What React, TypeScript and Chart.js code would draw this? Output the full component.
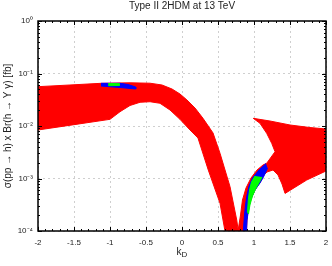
import React, { useEffect, useRef } from 'react';
import { Chart, registerables } from 'chart.js';

Chart.register(...registerables);

const FONT = '"Liberation Sans", Arial, Helvetica, sans-serif';

const titleText = 'Type II 2HDM at 13 TeV';
const yAxisTitle = 'σ(pp → h) x Br(h → Y γ) [fb]';
const xAxisTitleMain = 'k';
const xAxisTitleSub = 'D';

const xMajorTicks = [-2, -1.5, -1, -0.5, 0, 0.5, 1, 1.5, 2];
const xTickLabels = ['-2', '-1.5', '-1', '-0.5', '0', '0.5', '1', '1.5', '2'];
const yMajorTicks = [1e-4, 1e-3, 1e-2, 1e-1, 1];
const yTickLabels = ['10⁻⁴', '10⁻³', '10⁻²', '10⁻¹', '10⁰'];

// Red region, left arc: upper edge (left to right) then lower edge (right to left)
const redLeftK = [
  -2, -1.556, -1.125, -0.722, -0.444, -0.278, -0.139, -0.028, 0.069, 0.181, 0.292, 0.431, 0.528, 0.667, 0.76, 0.782,
  0.597, 0.528, 0.365, 0.222, 0.111, -0.028, -0.167, -0.306, -0.444, -0.583, -0.722, -0.861, -1.0, -1.5, -2,
];
const redLeftSigma = [
  0.0561, 0.0604, 0.065, 0.0665, 0.0653, 0.0604, 0.0507, 0.0407, 0.0313, 0.022, 0.014, 0.00736, 0.00302, 0.000698, 0.000162, 0.0001,
  0.0001, 0.000337, 0.00145, 0.0059, 0.0084, 0.0134, 0.0202, 0.0271, 0.029, 0.0283, 0.0246, 0.0187, 0.0134, 0.0106, 0.0084,
];

// Red region, right "arrow" shape (outline)
const redRightK = [
  0.778, 0.813, 0.84, 0.889, 0.958, 1.042, 1.125, 1.176, 1.292, 1.246, 1.176, 1.083, 0.99,
  1.222, 1.5, 1.778, 2.0, 2.0, 1.732, 1.431, 1.389, 1.333, 1.264, 1.181, 1.139, 1.097, 1.014, 0.951, 0.917, 0.903, 0.896,
];
const redRightSigma = [
  0.0001, 0.000202, 0.000389, 0.000659, 0.00102, 0.00145, 0.00181, 0.00195, 0.00324, 0.00468, 0.00726, 0.01125, 0.014,
  0.01245, 0.01045, 0.00935, 0.00877, 0.00139, 0.000935, 0.00052, 0.000785, 0.00117, 0.00145, 0.00133, 0.00117, 0.000896, 0.000604, 0.000389, 0.000251, 0.000162, 0.0001,
];

// Blue regions
const blueLeftK = [-1.125, -0.861, -0.75, -0.643, -0.643, -0.861, -1.125];
const blueLeftSigma = [0.065, 0.065, 0.0617, 0.0553, 0.0507, 0.0541, 0.0578];
const blueRightK = [1.167, 1.069, 0.979, 0.931, 0.903, 0.882, 0.868, 0.851, 0.896, 0.903, 0.924, 0.951, 1.014, 1.083, 1.139, 1.188];
const blueRightSigma = [0.00193, 0.00145, 0.00102, 0.00072, 0.000485, 0.000313, 0.000202, 0.0001, 0.0001, 0.000162, 0.000251, 0.000389, 0.000604, 0.00082, 0.00112, 0.00158];

// Green regions
const greenLeftK = [-1.024, -0.871, -0.871, -1.024];
const greenLeftSigma = [0.0645, 0.064, 0.059, 0.0586];
const greenRightK = [1.014, 0.965, 0.938, 0.921, 0.91, 0.924, 0.944, 0.979, 1.028, 1.083, 1.111];
const greenRightSigma = [0.00112, 0.000857, 0.000604, 0.000389, 0.00023, 0.000211, 0.000313, 0.000464, 0.000659, 0.000896, 0.00107];

const RED = '#ff0000';
const BLUE = '#0000ff';
const GREEN = '#00ff00';

function pts(k: number[], s: number[]) {
  return k.map((v, i) => ({ x: v, y: s[i] }));
}

function region(k: number[], s: number[], color: string, order: number) {
  return {
    data: pts(k, s),
    showLine: true,
    fill: 'shape',
    backgroundColor: color,
    borderColor: color,
    borderWidth: 1,
    pointRadius: 0,
    pointHoverRadius: 0,
    tension: 0,
    order,
  };
}

const framePlugin = {
  id: 'frameTicks',
  afterDatasetsDraw(chart: any) {
    const { ctx, chartArea: a, scales } = chart;
    const x = scales.x;
    const y = scales.y;
    ctx.save();
    ctx.strokeStyle = '#000';
    ctx.lineWidth = 1;
    ctx.beginPath();
    const vt = (px: number, len: number) => {
      ctx.moveTo(px, a.bottom);
      ctx.lineTo(px, a.bottom - len);
      ctx.moveTo(px, a.top);
      ctx.lineTo(px, a.top + len);
    };
    const ht = (py: number, len: number) => {
      ctx.moveTo(a.left, py);
      ctx.lineTo(a.left + len, py);
      ctx.moveTo(a.right, py);
      ctx.lineTo(a.right - len, py);
    };
    for (let i = 0; i < xMajorTicks.length; i++) {
      const v = xMajorTicks[i];
      vt(Math.round(x.getPixelForValue(v)) + 0.5, 4);
      if (i < xMajorTicks.length - 1) {
        const step = (xMajorTicks[i + 1] - v) / 5;
        for (let m = 1; m < 5; m++) vt(Math.round(x.getPixelForValue(v + m * step)) + 0.5, 2);
      }
    }
    for (let i = 0; i < yMajorTicks.length; i++) {
      const v = yMajorTicks[i];
      ht(Math.round(y.getPixelForValue(v)) + 0.5, 4);
      if (i < yMajorTicks.length - 1) {
        for (let m = 2; m < 10; m++) ht(Math.round(y.getPixelForValue(v * m)) + 0.5, 2);
      }
    }
    ctx.stroke();
    ctx.lineWidth = 1.5;
    ctx.strokeRect(a.left, a.top, a.right - a.left, a.bottom - a.top);

    // x-axis title with subscript
    ctx.fillStyle = '#222';
    ctx.textBaseline = 'alphabetic';
    ctx.textAlign = 'left';
    const mainFont = `10px ${FONT}`;
    const subFont = `8px ${FONT}`;
    ctx.font = mainFont;
    const w1 = ctx.measureText(xAxisTitleMain).width;
    ctx.font = subFont;
    const w2 = ctx.measureText(xAxisTitleSub).width;
    const cx = (a.left + a.right) / 2;
    const sx = cx - (w1 + w2) / 2;
    ctx.font = mainFont;
    ctx.fillText(xAxisTitleMain, sx, 255);
    ctx.font = subFont;
    ctx.fillText(xAxisTitleSub, sx + w1, 257);
    ctx.restore();
  },
};

export default function App() {
  const ref = useRef<HTMLCanvasElement | null>(null);
  useEffect(() => {
    if (!ref.current) return;
    const chart = new Chart(ref.current, {
      type: 'scatter',
      data: {
        datasets: [
          region(greenLeftK, greenLeftSigma, GREEN, 1),
          region(greenRightK, greenRightSigma, GREEN, 1),
          region(blueLeftK, blueLeftSigma, BLUE, 2),
          region(blueRightK, blueRightSigma, BLUE, 2),
          region(redLeftK, redLeftSigma, RED, 3),
          region(redRightK, redRightSigma, RED, 3),
        ] as any,
      },
      options: {
        animation: false,
        responsive: false,
        events: [],
        layout: { padding: { left: 0, right: 6, top: 0, bottom: 0 } },
        plugins: {
          legend: { display: false },
          tooltip: { enabled: false },
          title: {
            display: true,
            text: titleText,
            fullSize: false,
            color: '#222',
            font: { size: 10, family: FONT, weight: 'normal' },
            padding: { top: 0, bottom: 9 },
          },
        },
        scales: {
          x: {
            type: 'linear',
            min: -2,
            max: 2,
            afterBuildTicks: (s: any) => {
              s.ticks = xMajorTicks.map((v) => ({ value: v }));
            },
            afterFit: (s: any) => {
              s.height = 35;
              s.paddingLeft = 0;
              s.paddingRight = 0;
            },
            ticks: {
              autoSkip: false,
              maxRotation: 0,
              padding: 7,
              color: '#222',
              font: { size: 8, family: FONT },
              callback: (v: any) => {
                const i = xMajorTicks.findIndex((t) => Math.abs(t - Number(v)) < 1e-9);
                return i >= 0 ? xTickLabels[i] : '';
              },
            },
            grid: { color: '#cfcfcf', drawTicks: false, lineWidth: 1 },
            border: { display: false, dash: [2, 3] },
          },
          y: {
            type: 'logarithmic',
            min: 1e-4,
            max: 1,
            afterBuildTicks: (s: any) => {
              s.ticks = yMajorTicks.map((v) => ({ value: v, major: true }));
            },
            afterFit: (s: any) => {
              s.width = 38;
              s.paddingTop = 0;
              s.paddingBottom = 0;
            },
            ticks: {
              autoSkip: false,
              padding: 5,
              color: '#222',
              font: { size: 8, family: FONT },
              callback: (v: any) => {
                const i = yMajorTicks.findIndex((t) => Math.abs(Math.log10(t) - Math.log10(Number(v))) < 1e-6);
                return i >= 0 ? yTickLabels[i] : '';
              },
            },
            grid: { color: '#cfcfcf', drawTicks: false, lineWidth: 1 },
            border: { display: false, dash: [2, 3] },
            title: {
              display: true,
              text: yAxisTitle,
              color: '#222',
              font: { size: 10, family: FONT },
              padding: { top: 2, bottom: 0 },
            },
          },
        },
      } as any,
      plugins: [framePlugin],
    });
    return () => chart.destroy();
  }, []);
  return (
    <div style={{ position: 'absolute', left: 0, top: 0, width: 332, height: 266, background: '#fff' }}>
      <canvas ref={ref} width={332} height={266} style={{ display: 'block' }} />
    </div>
  );
}
